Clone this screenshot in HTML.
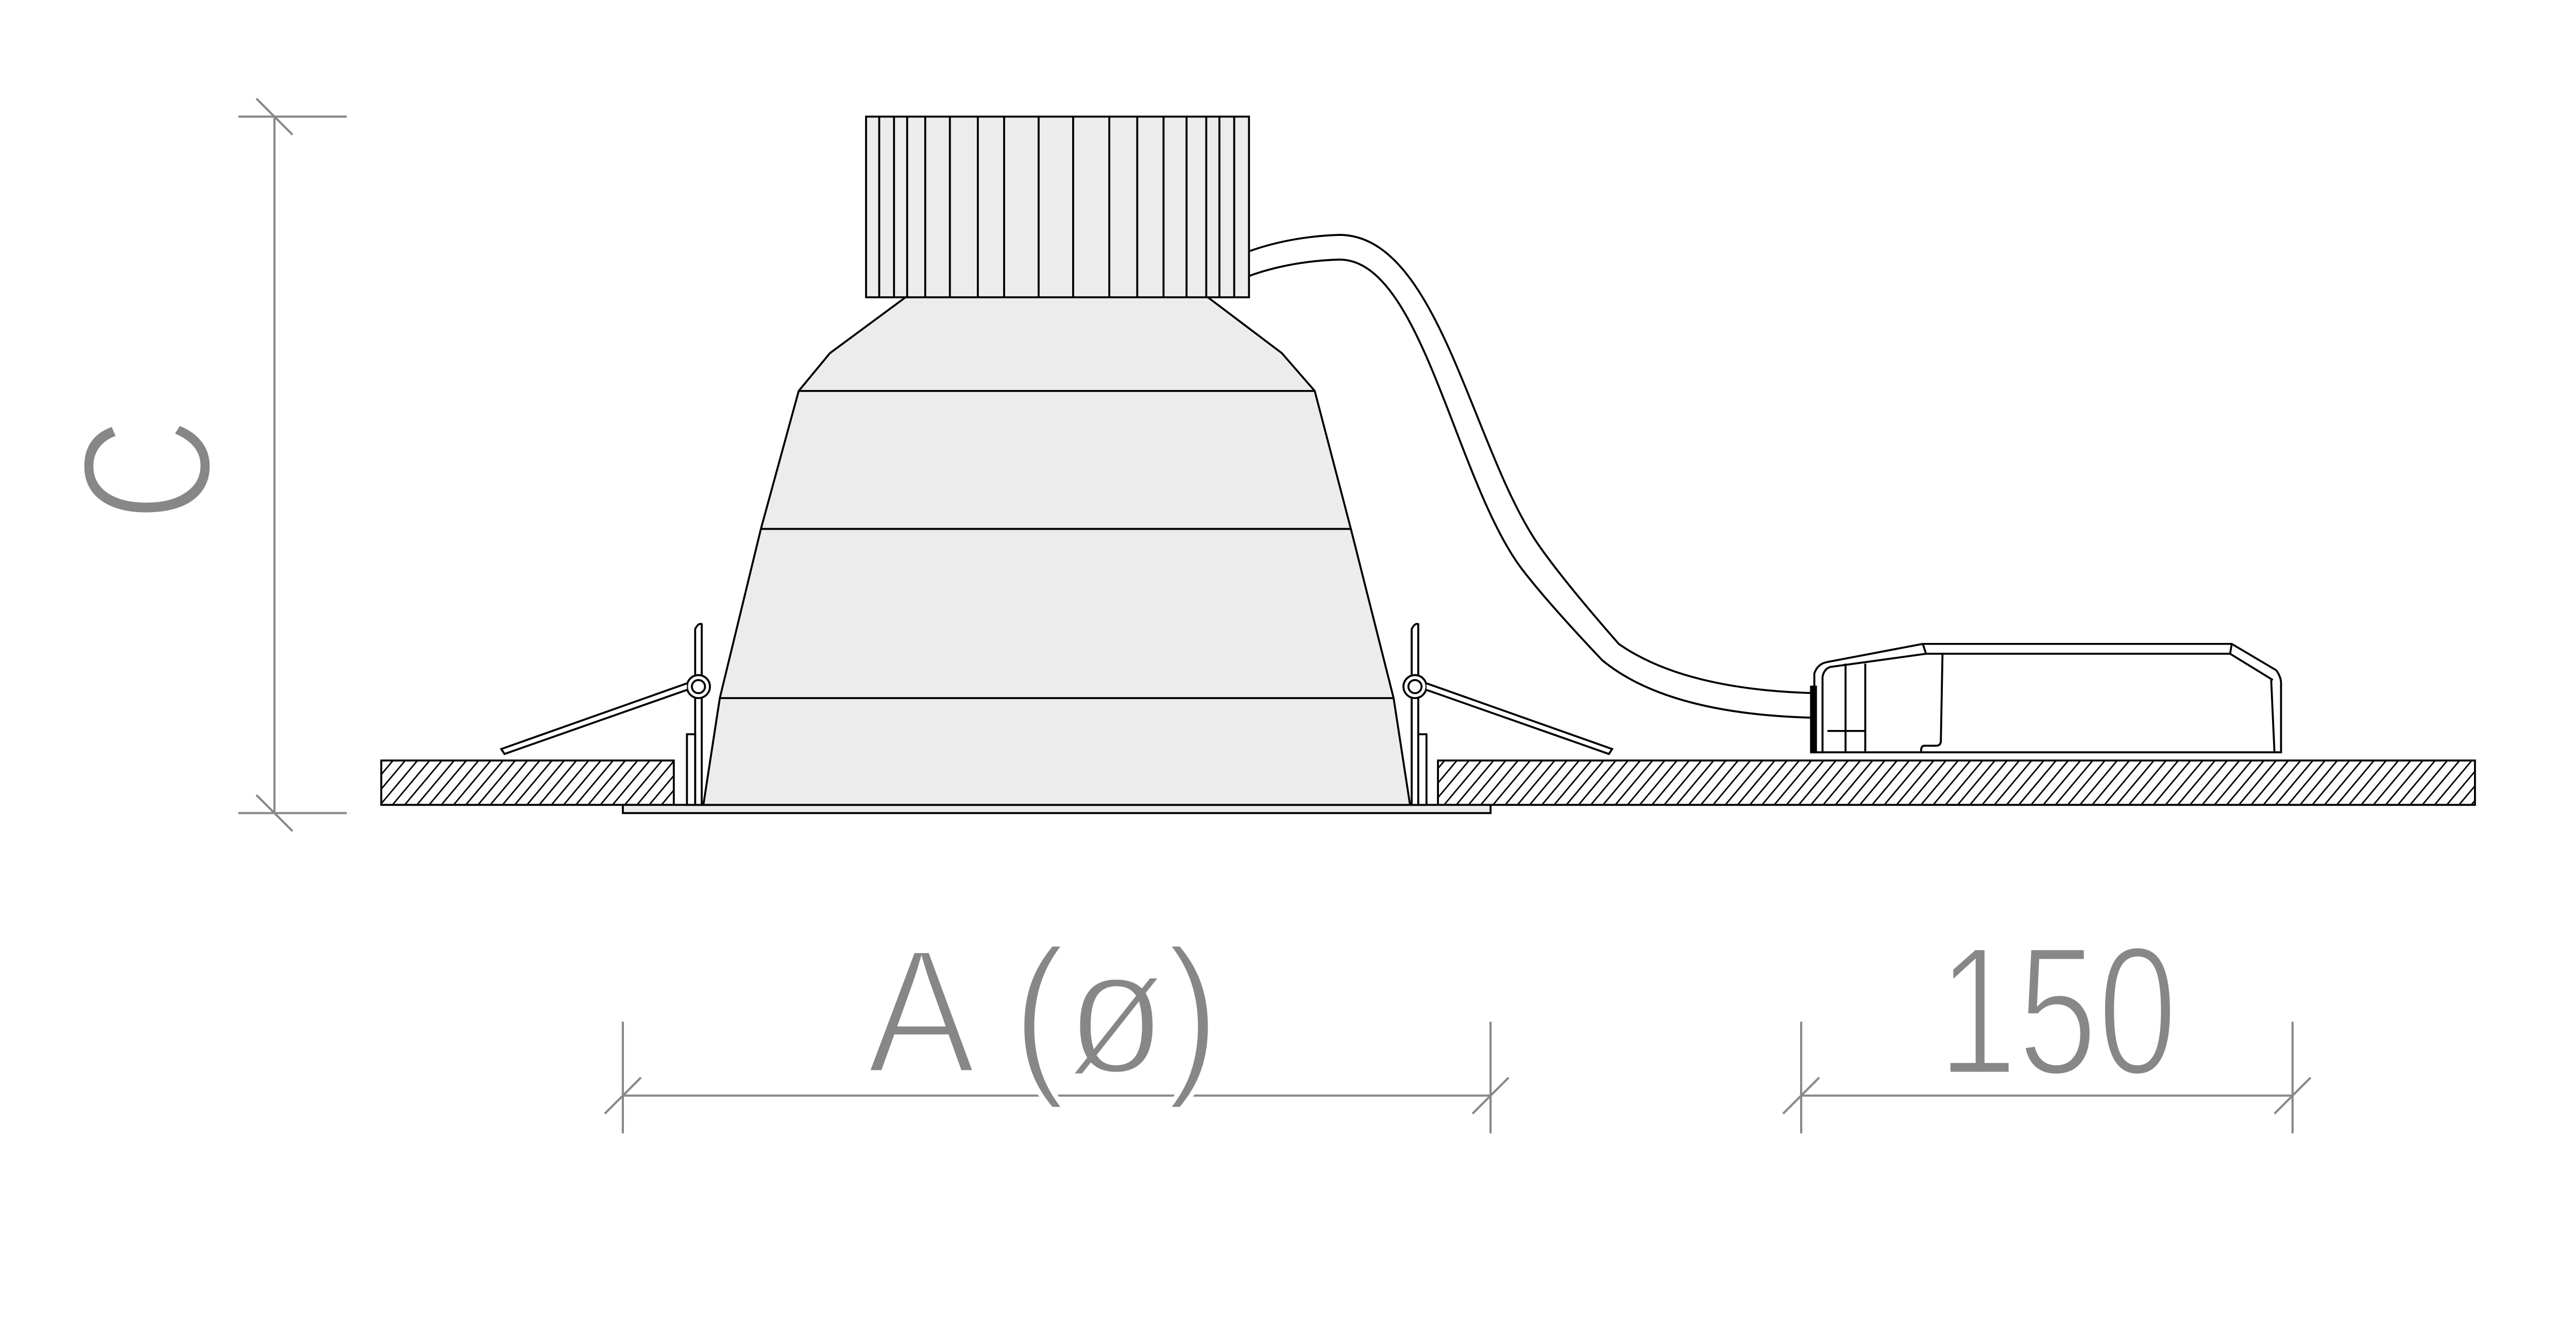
<!DOCTYPE html>
<html><head><meta charset="utf-8"><style>html,body{margin:0;padding:0;background:#fff}svg{display:block}</style></head>
<body>
<svg width="5209" height="2605" viewBox="0 0 1633 817" preserveAspectRatio="none" xmlns="http://www.w3.org/2000/svg">
<defs>
<pattern id="h" width="5.7" height="10" patternUnits="userSpaceOnUse" patternTransform="rotate(40)">
<line x1="2" y1="0" x2="2" y2="10" stroke="#000" stroke-width="0.9"/>
</pattern>
</defs>
<g stroke="#000" stroke-width="1.2" fill="none">
<rect x="232" y="463" width="178" height="27" fill="url(#h)"/>
<rect x="875" y="463" width="631" height="27" fill="url(#h)"/>
<rect x="379" y="490" width="528" height="5" fill="#ececec"/>
<polygon points="551,181 505,215 486,238 463,322 438,425 428,490 858,490 848,425 822,322 800,238 780,215 735,181" fill="#ececec"/>
<line x1="486" y1="238" x2="800" y2="238"/>
<line x1="463" y1="322" x2="822" y2="322"/>
<line x1="438" y1="425" x2="848" y2="425"/>
<rect x="527" y="71" width="233" height="110" fill="#ececec"/>
<path d="M535 71V181M544 71V181M552 71V181M563 71V181M578 71V181M595 71V181M611 71V181M632 71V181M653 71V181M675 71V181M692 71V181M708 71V181M722 71V181M734 71V181M742 71V181M751 71V181"/>
<path d="M423 490V383Q425 379 427 380V490Z" fill="#fff"/>
<rect x="418" y="447" width="5" height="43" fill="#fff"/>
<circle cx="425" cy="418" r="7" fill="#fff"/>
<circle cx="425" cy="418" r="4"/>
<path d="M418 416L305 456L307 459L418 420" fill="#fff"/>
<path d="M859 490V383Q861 379 863 380V490Z" fill="#fff"/>
<rect x="863" y="447" width="5" height="43" fill="#fff"/>
<circle cx="861" cy="418" r="7" fill="#fff"/>
<circle cx="861" cy="418" r="4"/>
<path d="M868 416L981 456L979 459L868 420" fill="#fff"/>
<path d="M760 153Q785 144 815 143C875 143 895 270 935 330Q950 352 985 392Q1025 420 1105 422"/>
<path d="M760 168Q785 159 815 158C865 158 885 290 925 345Q940 365 975 402Q1015 435 1105 437"/>
<path d="M1104 458V410Q1106 404 1112 403L1170 392H1358L1385 408Q1388 412 1388 416V458Z" fill="#fff"/>
<path d="M1170 392L1172 398H1357L1358 392M1357 398L1383 414M1382 414L1384 458M1109 458V412Q1110 407 1114 406L1172 398M1135 404V458M1112 445H1135M1182 398L1181 451Q1181 454 1178 454H1171Q1169 454 1169 457V458M1123 404V458"/>
<rect x="1102" y="418" width="3" height="40" fill="#000"/>
</g>
<g stroke="#888" stroke-width="1.3" fill="none">
<path d="M167 71V495M145 71H211M145 495H211M156 60L178 82M156 484L178 506"/>
<path d="M379 667H907M379 622V690M907 622V690M368 678L390 656M896 678L918 656"/>
<path d="M1096 667H1395M1096 622V690M1395 622V690M1085 678L1107 656M1384 678L1406 656"/>
</g>
<g fill="#878787" stroke="#fff" stroke-width="3" font-family="'Liberation Sans',sans-serif">
<text transform="translate(128,286) rotate(-90) scale(0.78,1)" font-size="112" text-anchor="middle">C</text>
<text x="635" y="653" font-size="108" text-anchor="middle" textLength="215" lengthAdjust="spacingAndGlyphs">A (ø)</text>
<text x="1252" y="654" font-size="112" text-anchor="middle" textLength="146" lengthAdjust="spacingAndGlyphs">150</text>
</g>
</svg>
</body></html>
